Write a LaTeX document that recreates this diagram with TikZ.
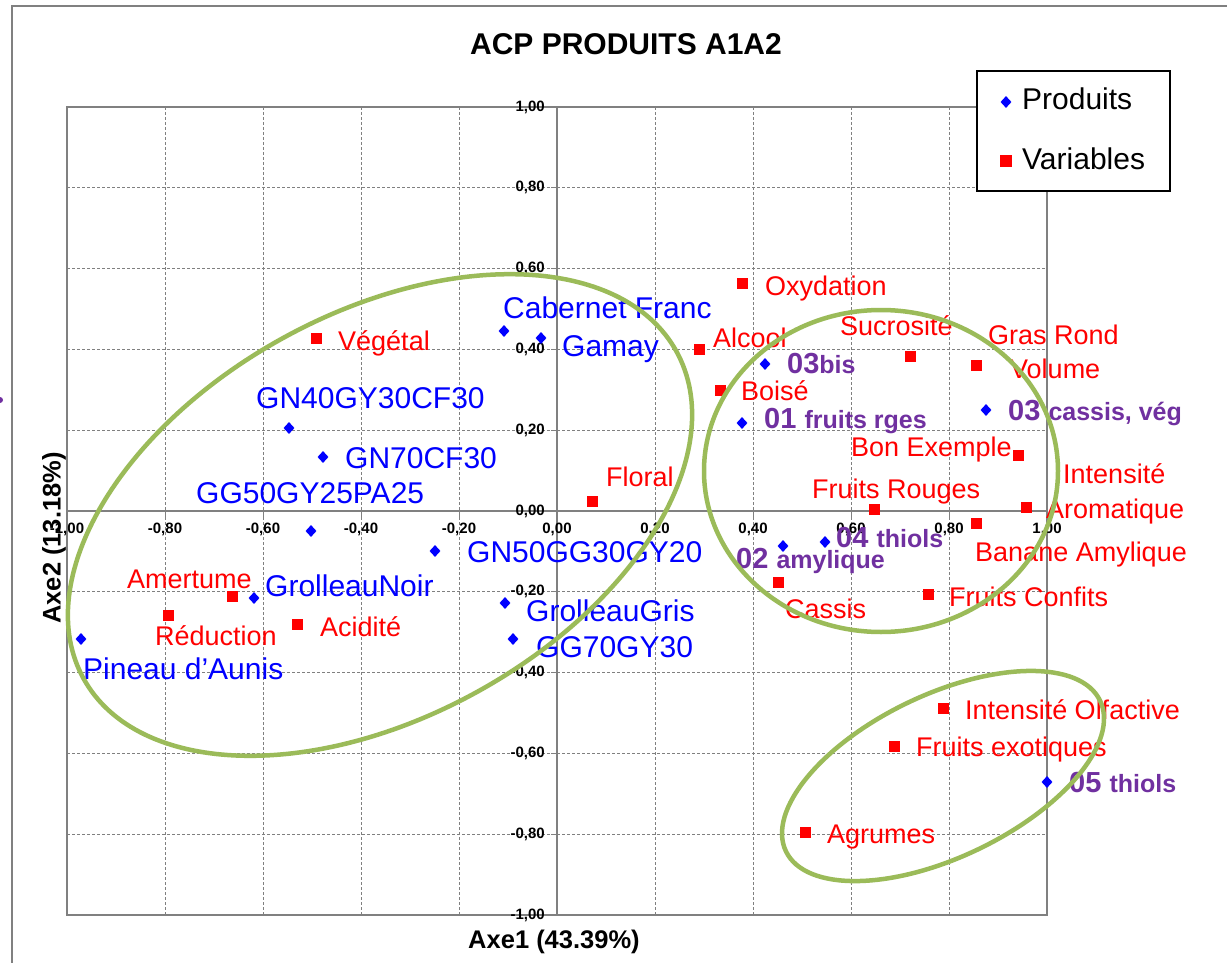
\documentclass[tikz,border=0pt]{standalone}
\usepackage{fontspec}
\setmainfont{Liberation Sans}
\usetikzlibrary{shapes.geometric}
\definecolor{prodblue}{HTML}{0000FF}
\definecolor{varred}{HTML}{FF0000}
\definecolor{grpurple}{HTML}{7030A0}
\definecolor{elgreen}{HTML}{9BBB59}
\definecolor{gridgray}{HTML}{808080}
\newcommand\smallpart[1]{{\fontsize{25}{28}\selectfont #1}}
\begin{document}
\begin{tikzpicture}[x=1pt,y=-1pt,
  prodpt/.style={diamond, fill=prodblue, inner sep=0pt, minimum width=11pt, minimum height=12pt},
  varpt/.style={rectangle, fill=varred, inner sep=0pt, minimum size=11pt},
  plab/.style={text=prodblue, font=\fontsize{30}{32}\selectfont, anchor=base west, inner sep=0pt},
  vlab/.style={text=varred, font=\fontsize{27}{30}\selectfont, anchor=base west, inner sep=0pt},
  glab/.style={text=grpurple, font=\bfseries\fontsize{29}{32}\selectfont, anchor=base west, inner sep=0pt},
  gridline/.style={draw=gridgray, line width=0.9pt, dash pattern=on 3pt off 2pt},
  axisline/.style={draw=gridgray, line width=2pt},
  ticklab/.style={font=\bfseries\fontsize{15}{16}\selectfont, inner sep=0pt},
  grp/.style={draw=elgreen, line width=4.5pt},
]
\useasboundingbox (0,0) rectangle (1227,963);
\fill[white] (0,0) rectangle (1227,963);
% outer frame
\draw[gridgray, line width=2pt] (12,963) -- (12,6) -- (1227,6);
\fill[grpurple] (0,400) circle (3pt);
% title
\node[font=\bfseries\fontsize{30}{32}\selectfont] (title) at (626,44) {ACP PRODUITS A1A2};
% grid
\foreach \i in {1,...,9} {
  \draw[gridline] (67+98*\i,107) -- (67+98*\i,915);
  \draw[gridline] (67,107+80.8*\i) -- (1047,107+80.8*\i);
}
\draw[draw=gridgray, line width=2.5pt] (67,107) rectangle (1047,915);
\draw[axisline] (557,107) -- (557,915);
\draw[axisline] (67,511) -- (1047,511);
\foreach \i in {0,...,10} {
  \draw[gridgray, line width=1pt] (551,107+80.8*\i) -- (557,107+80.8*\i);
  \draw[gridgray, line width=1pt] (67+98*\i,511) -- (67+98*\i,517);
}
% y tick labels
\foreach \i/\t in {0/{1,00},1/{0,80},2/{0,60},3/{0,40},4/{0,20},5/{0,00},6/{-0,20},7/{-0,40},8/{-0,60},9/{-0,80},10/{-1,00}} {
  \node[ticklab, anchor=east] (yt\i) at (545,107+80.8*\i) {\t};
}
% x tick labels
\foreach \i/\t in {0/{-1,00},1/{-0,80},2/{-0,60},3/{-0,40},4/{-0,20},5/{0,00},6/{0,20},7/{0,40},8/{0,60},9/{0,80},10/{1,00}} {
  \node[ticklab] (xt\i) at (67+98*\i,529) {\t};
}
% axis titles
\node[font=\bfseries\fontsize{25.5}{28}\selectfont] (axe1) at (554,942) {Axe1 (43.39\%)};
\node[font=\bfseries\fontsize{25.5}{28}\selectfont, rotate=90] (axe2) at (54,538) {Axe2 (13.18\%)};

% variables (red squares)
\node[varpt] (v1) at (742,283) {};  \node[vlab] (lv1) at (765,295) {Oxydation};
\node[varpt] (v2) at (316,338) {};  \node[vlab] (lv2) at (338,350) {Végétal};
\node[varpt] (v3) at (699,349) {};  \node[vlab] (lv3) at (713,347) {Alcool};
\node[varpt] (v4) at (910,356) {};  \node[vlab] (lv4) at (840,335) {Sucrosité};
\node[varpt] (v5) at (976,365) {};  \node[vlab] (lv5a) at (988,344) {Gras Rond};
                                    \node[vlab] (lv5b) at (1010,378) {Volume};
\node[varpt] (v6) at (720,390) {};  \node[vlab] (lv6) at (741,400) {Boisé};
\node[varpt] (v7) at (1018,455) {}; \node[vlab] (lv7) at (851,456) {Bon Exemple};
\node[varpt] (v8) at (1026,507) {}; \node[vlab] (lv8a) at (1063,483) {Intensité};
                                    \node[vlab] (lv8b) at (1046,518) {Aromatique};
\node[varpt] (v9) at (592,501) {};  \node[vlab] (lv9) at (606,486) {Floral};
\node[varpt] (v10) at (874,509) {}; \node[vlab] (lv10) at (812,498) {Fruits Rouges};
\node[varpt] (v11) at (976,523) {}; \node[vlab] (lv11) at (975,561) {Banane Amylique};
\node[varpt] (v12) at (778,582) {}; \node[vlab] (lv12) at (785,618) {Cassis};
\node[varpt] (v13) at (928,594) {}; \node[vlab] (lv13) at (949,606) {Fruits Confits};
\node[varpt] (v14) at (232,596) {}; \node[vlab] (lv14) at (127,588) {Amertume};
\node[varpt] (v15) at (168,615) {}; \node[vlab] (lv15) at (155,645) {Réduction};
\node[varpt] (v16) at (297,624) {}; \node[vlab] (lv16) at (320,636) {Acidité};
\node[varpt] (v17) at (943,708) {}; \node[vlab] (lv17) at (965,719) {Intensité Olfactive};
\node[varpt] (v18) at (894,746) {}; \node[vlab] (lv18) at (916,756) {Fruits exotiques};
\node[varpt] (v19) at (805,832) {}; \node[vlab] (lv19) at (827,843) {Agrumes};

% products (blue diamonds)
\node[prodpt] (p1) at (504,331) {};  \node[plab] (lp1) at (503,318) {Cabernet Franc};
\node[prodpt] (p2) at (541,338) {};  \node[plab] (lp2) at (562,356) {Gamay};
\node[prodpt] (p3) at (289,428) {};  \node[plab] (lp3) at (256,408) {GN40GY30CF30};
\node[prodpt] (p4) at (323,457) {};  \node[plab] (lp4) at (345,468) {GN70CF30};
\node[prodpt] (p5) at (311,531) {};  \node[plab] (lp5) at (196,503) {GG50GY25PA25};
\node[prodpt] (p6) at (435,551) {};  \node[plab] (lp6) at (467,562) {GN50GG30GY20};
\node[prodpt] (p7) at (254,598) {};  \node[plab] (lp7) at (265,596) {GrolleauNoir};
\node[prodpt] (p8) at (505,603) {};  \node[plab] (lp8) at (526,621) {GrolleauGris};
\node[prodpt] (p9) at (513,639) {};  \node[plab] (lp9) at (536,657) {GG70GY30};
\node[prodpt] (p10) at (81,639) {};  \node[plab] (lp10) at (83,679) {Pineau d{\char"27}Aunis};
\node[prodpt] (p11) at (765,364) {}; \node[glab] (lp11) at (787,373) {03\smallpart{bis}};
\node[prodpt] (p12) at (742,423) {}; \node[glab] (lp12) at (764,428) {01 \smallpart{fruits rges}};
\node[prodpt] (p13) at (986,410) {}; \node[glab] (lp13) at (1008,420) {03 \smallpart{cassis, vég}};
\node[prodpt] (p14) at (783,546) {}; \node[glab] (lp14) at (736,568) {02 \smallpart{amylique}};
\node[prodpt] (p15) at (825,542) {}; \node[glab] (lp15) at (836,547) {04 \smallpart{thiols}};
\node[prodpt] (p16) at (1047,782) {};\node[glab] (lp16) at (1069,792) {05 \smallpart{thiols}};

% groups
\draw[grp, rotate around={28.9:(380,515)}] (380,515) ellipse [x radius=338.6pt, y radius=201.8pt];
\draw[grp] (881,471) ellipse [x radius=177pt, y radius=161pt];
\draw[grp, rotate around={25.6:(943,776)}] (943,776) ellipse [x radius=174.2pt, y radius=81.3pt];

% legend
\node[draw=black, line width=2pt, fill=white, minimum width=193pt, minimum height=120pt, anchor=north west, inner sep=0pt] (legend) at (976,70) {};
\node[prodpt] (legp) at (1006,102) {};
\node[anchor=base west, inner sep=0pt, font=\fontsize{30}{32}\selectfont] (legpt) at (1022,110) {Produits};
\node[varpt, minimum size=12pt] (legv) at (1006,161) {};
\node[anchor=base west, inner sep=0pt, font=\fontsize{30}{32}\selectfont] (legvt) at (1022,170) {Variables};
\end{tikzpicture}
\end{document}
